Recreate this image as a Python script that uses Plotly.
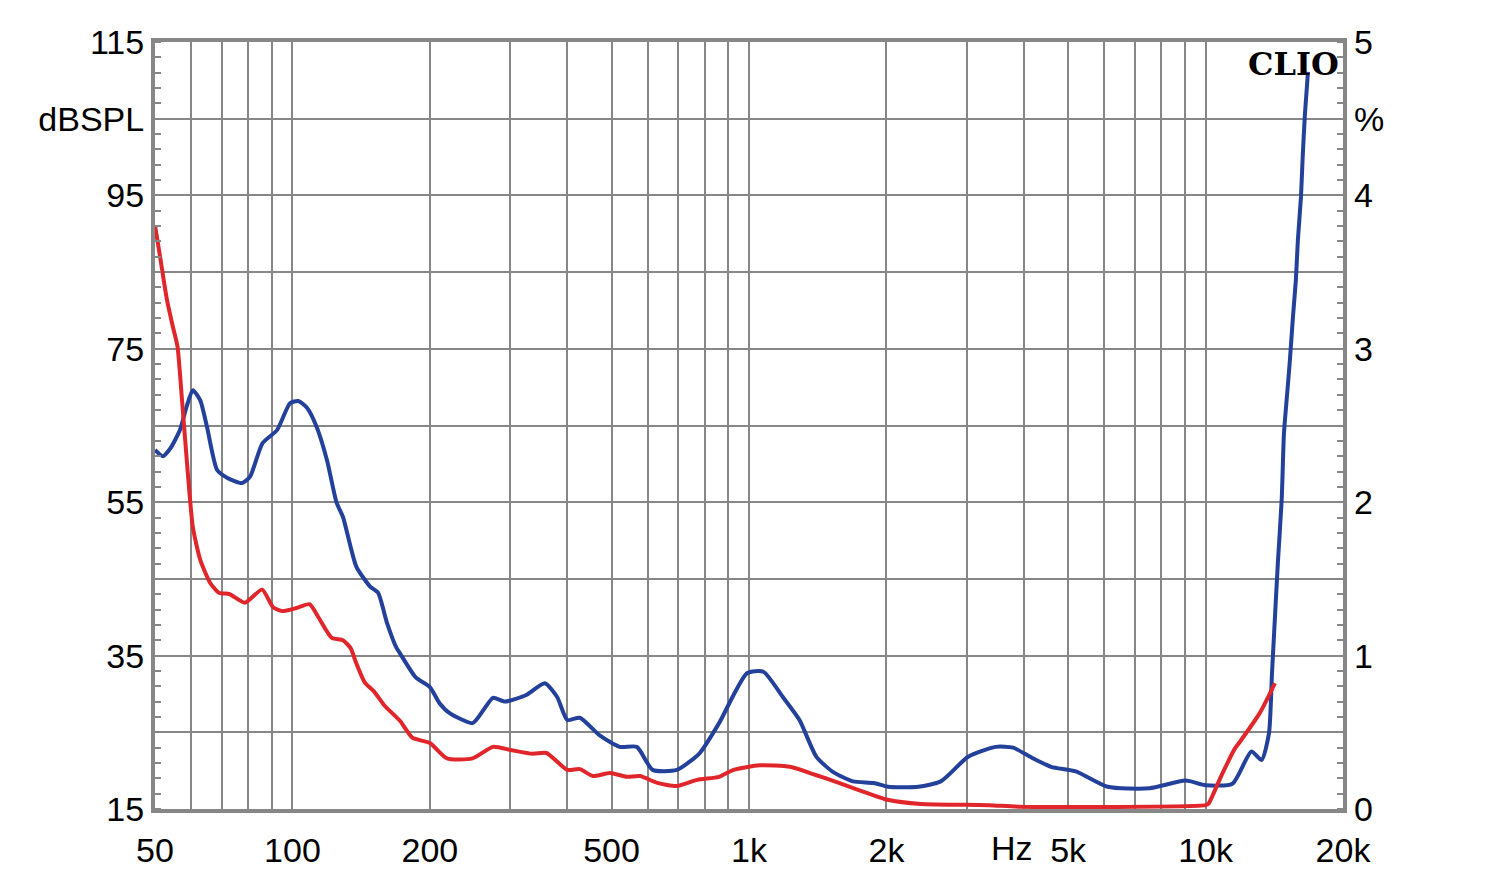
import math
import plotly.graph_objects as go

# Blue curve (frequency in Hz, level in dBSPL)
blue_freq = [50, 52, 54, 56.7, 58.6, 60.5, 62.8, 65, 68.4, 71.9, 77.5, 80.7, 86, 92.5, 98.8,
             103, 107.6, 113, 119, 125, 129, 138, 148, 154, 161, 169, 172, 186, 200, 210, 221,
             248, 262, 275, 292, 326, 357, 380, 400, 426, 471, 521, 568, 615, 695, 780, 860,
             990, 1075, 1186, 1290, 1405, 1530, 1690, 1876, 2015, 2350, 2630, 3020, 3470, 3790,
             4130, 4590, 5200, 6100, 7530, 9040, 10000, 11450, 12600, 13270, 13770, 13980,
             14190, 14400, 14680, 14850, 15050, 15300, 15540, 15770, 15930, 16180, 16320,
             16510, 16760]
blue_db = [61.8, 61.0, 62.0, 64.4, 67.4, 69.6, 68.3, 64.8, 59.2, 58.2, 57.5, 58.3, 62.7, 64.4, 67.9,
           68.2, 67.3, 64.8, 60.5, 54.9, 53.1, 46.6, 44.0, 43.2, 39.3, 36.0, 35.3, 32.2, 30.9, 28.8, 27.5,
           26.2, 27.9, 29.5, 29.0, 29.9, 31.4, 29.6, 26.6, 26.9, 24.6, 23.1, 23.1, 20.1, 20.1, 22.3, 26.2,
           32.7, 32.9, 29.6, 26.6, 21.8, 19.8, 18.6, 18.4, 17.9, 17.9, 18.6, 21.8, 23.1, 23.0,
           21.8, 20.5, 19.9, 17.9, 17.7, 18.7, 18.1, 18.3, 22.5, 21.4, 24.9, 32.7,
           40.0, 47.1, 55.3, 64.0, 68.3, 73.5, 79.2, 84.0, 89.2, 94.8, 100.0,
           105.7, 111.1]

# Red curve
red_freq = [50, 51.3, 53.1, 54.7, 56, 57.3, 59, 60.5, 62.8, 66, 69, 72.9, 78.7, 85.8, 90.7, 95,
            102, 109, 114, 122, 129, 134, 138, 144, 151, 159, 172, 183, 200, 218, 248, 275, 300,
            336, 360, 400, 426, 455, 496, 540, 577, 630, 695, 770, 860, 925, 1055, 1230, 1405,
            1540, 1640, 1830, 2010, 2380, 3360, 3900, 10000, 10150, 10800, 11600, 11870, 13140,
            14190]
red_db = [91.1, 87.0, 81.4, 77.9, 75.3, 68.3, 58.8, 51.8, 47.5, 44.5, 43.2, 43.0, 41.9, 43.6, 41.3, 40.8,
          41.2, 41.7, 40.0, 37.3, 37.0, 36.0, 34.0, 31.5, 30.3, 28.5, 26.5, 24.3, 23.6, 21.6, 21.6, 23.1, 22.7,
          22.2, 22.3, 20.1, 20.2, 19.3, 19.7, 19.2, 19.3, 18.4, 18.0, 18.8, 19.2, 20.1, 20.7, 20.5, 19.4,
          18.6, 18.0, 17.0, 16.2, 15.65, 15.5, 15.3, 15.5, 15.7, 19.2, 22.9, 23.7, 27.5,
          31.4]

# Axis ticks
x_grid = [50, 60, 70, 80, 90, 100, 200, 300, 400, 500, 600, 700, 800, 900, 1000,
          2000, 3000, 4000, 5000, 6000, 7000, 8000, 9000, 10000, 20000]
x_labels = ["50", "", "", "", "", "100", "200", "", "", "500", "", "", "", "", "1k",
            "2k", "", "", "5k", "", "", "", "", "10k", "20k"]
y_vals = [15, 25, 35, 45, 55, 65, 75, 85, 95, 105, 115]
y_labels = ["15", "", "35", "", "55", "", "75", "", "95", "dBSPL", "115"]
y2_vals = [0, 0.5, 1, 1.5, 2, 2.5, 3, 3.5, 4, 4.5, 5]
y2_labels = ["0", "", "1", "", "2", "", "3", "", "4", "%", "5"]

GRID = "#878787"
FONT = "Liberation Sans, Arial, sans-serif"
FS = 34

fig = go.Figure()
fig.add_trace(go.Scatter(x=blue_freq, y=blue_db, mode="lines",
                         line=dict(color="#23409a", width=4, shape="spline", smoothing=0.6),
                         showlegend=False, hoverinfo="skip"))
fig.add_trace(go.Scatter(x=red_freq, y=red_db, mode="lines",
                         line=dict(color="#e0262b", width=4, shape="spline", smoothing=0.6),
                         showlegend=False, hoverinfo="skip"))
# invisible trace to activate the right axis
fig.add_trace(go.Scatter(x=[50], y=[0], yaxis="y2", mode="markers",
                         marker=dict(opacity=0), showlegend=False, hoverinfo="skip"))

fig.update_layout(
    width=1500, height=882,
    margin=dict(l=155, r=157, t=42, b=73),
    paper_bgcolor="white", plot_bgcolor="white",
    font=dict(family=FONT, size=FS, color="black"),
    xaxis=dict(type="log", range=[math.log10(50), math.log10(20000)],
               tickmode="array", tickvals=x_grid, ticktext=x_labels,
               showgrid=True, gridcolor=GRID, gridwidth=1.7,
               showline=True, linecolor=GRID, linewidth=4, mirror=True,
               ticks="", ticklabelstandoff=8, zeroline=False,
               tickfont=dict(family=FONT, size=FS, color="black")),
    yaxis=dict(range=[15, 115], tickmode="array", tickvals=y_vals, ticktext=y_labels,
               showgrid=True, gridcolor=GRID, gridwidth=1.7,
               showline=True, linecolor=GRID, linewidth=4, mirror=True,
               ticks="", zeroline=False, ticklabelstandoff=0,
               minor=dict(ticks="inside", ticklen=6, tickcolor=GRID, tickwidth=1.5,
                          tick0=15, dtick=2, showgrid=False),
               tickfont=dict(family=FONT, size=FS, color="black")),
    yaxis2=dict(range=[0, 5], overlaying="y", side="right", tickmode="array",
                tickvals=y2_vals, ticktext=y2_labels, showgrid=False, zeroline=False,
                showline=False, ticks="", ticklabelstandoff=10,
                minor=dict(ticks="inside", ticklen=6, tickcolor=GRID, tickwidth=1.5,
                           tick0=0, dtick=0.1, showgrid=False),
                tickfont=dict(family=FONT, size=FS, color="black")),
    annotations=[
        dict(text="<b>CLIO</b>", xref="paper", yref="paper", x=0.998, y=0.999,
             xanchor="right", yanchor="top", showarrow=False,
             font=dict(family="DejaVu Serif, serif", size=32, color="black")),
        dict(text="Hz", xref="x", yref="paper", x=math.log10(3765), y=-0.051,
             xanchor="center", yanchor="middle", showarrow=False,
             font=dict(family=FONT, size=FS, color="black")),
    ],
)

fig.write_html("out.html")
